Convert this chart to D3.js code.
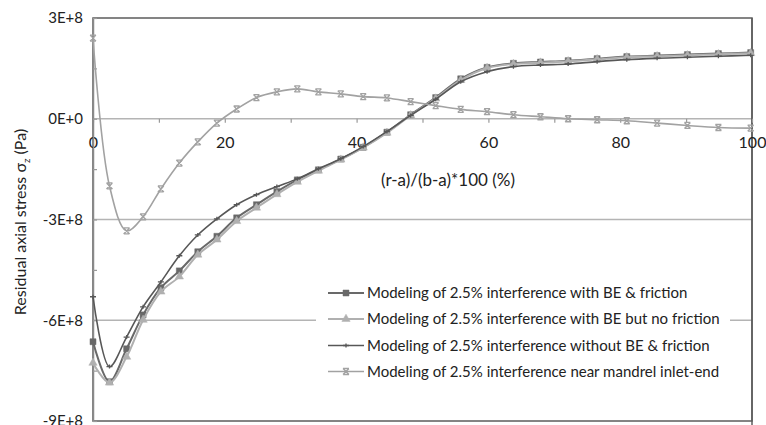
<!DOCTYPE html>
<html>
<head>
<meta charset="utf-8">
<script src="https://cdn.jsdelivr.net/npm/d3@7"></script>
<style>
	body { margin: 0; background: #fff; }
	text { font-family: Lato, "Open Sans", sans-serif; fill: #222; }
</style>
</head>
<body>
<div id="chart"></div>
<script>
// x positions (r-a)/(b-a)*100, shared by all series
var xValues = [0, 2.5, 5.1, 7.6, 10.3, 13.1, 15.9, 18.8, 21.8, 24.8, 27.9, 31, 34.2, 37.6, 41, 44.6, 48.2, 52, 55.8, 59.8, 63.8, 67.9, 72.1, 76.5, 81, 85.6, 90.2, 94.9, 99.8];

// stress values in units of 1E+8 Pa
var beFriction = [-6.64, -7.83, -6.85, -5.84, -5.03, -4.53, -3.96, -3.5, -2.95, -2.56, -2.17, -1.82, -1.52, -1.2, -0.85, -0.4, 0.12, 0.63, 1.19, 1.53, 1.65, 1.69, 1.73, 1.79, 1.85, 1.88, 1.91, 1.94, 1.97];
var beNoFriction = [-7.27, -7.86, -7.09, -5.99, -5.15, -4.7, -4.05, -3.6, -3.05, -2.65, -2.25, -1.88, -1.55, -1.22, -0.86, -0.42, 0.1, 0.6, 1.15, 1.51, 1.63, 1.67, 1.71, 1.77, 1.83, 1.86, 1.89, 1.92, 1.95];
var noBeFriction = [-5.3, -7.38, -6.5, -5.6, -4.86, -4.08, -3.46, -2.98, -2.56, -2.26, -2.02, -1.79, -1.49, -1.19, -0.83, -0.38, 0.1, 0.58, 1.1, 1.4, 1.55, 1.6, 1.63, 1.7, 1.76, 1.8, 1.83, 1.86, 1.89];
var inletEnd = [2.4, -2.0, -3.34, -2.92, -2.09, -1.32, -0.69, -0.13, 0.29, 0.63, 0.8, 0.89, 0.8, 0.74, 0.66, 0.62, 0.51, 0.39, 0.28, 0.21, 0.12, 0.06, 0.0, -0.03, -0.06, -0.13, -0.2, -0.26, -0.28];

var seriesNames = [
	"Modeling of 2.5% interference with BE & friction",
	"Modeling of 2.5% interference with BE but no friction",
	"Modeling of 2.5% interference without BE & friction",
	"Modeling of 2.5% interference near mandrel inlet-end"
];

var xTickValues = [0, 10, 20, 30, 40, 50, 60, 70, 80, 90, 100];
var xTickLabels = ["0", "", "20", "", "40", "", "60", "", "80", "", "100"];
var yTickValues = [-9, -7.5, -6, -4.5, -3, -1.5, 0, 1.5, 3];
var yTickLabels = ["-9E+8", "", "-6E+8", "", "-3E+8", "", "0E+0", "", "3E+8"];
var yGrid = [-6, -3, 0];

var width = 766, height = 425;
var margin = {left: 93, right: 14, top: 18, bottom: 4};

var svg = d3.select("#chart")
	.append("svg")
		.attr("width", width)
		.attr("height", height);

var x = d3.scaleLinear().domain([0, 100]).range([margin.left, width - margin.right]);
var y = d3.scaleLinear().domain([-9, 3]).range([height - margin.bottom, margin.top]);

// gridlines
svg.append("g")
	.selectAll("line")
	.data(yGrid)
	.enter()
		.append("line")
		.attr("x1", x(0))
		.attr("x2", x(100))
		.attr("y1", d => y(d))
		.attr("y2", d => y(d))
		.attr("stroke", "#b4b4b4")
		.attr("stroke-width", 1.5);

// plot border
svg.append("rect")
	.attr("x", x(0))
	.attr("y", y(3))
	.attr("width", x(100) - x(0))
	.attr("height", y(-9) - y(3))
	.attr("fill", "none")
	.attr("stroke", "#5c5c5c")
	.attr("stroke-width", 1.5);

svg.append("line")
	.attr("x1", x(100)).attr("x2", x(100))
	.attr("y1", y(3)).attr("y2", height)
	.attr("stroke", "#5c5c5c")
	.attr("stroke-width", 1.5);

// x axis sits on the zero line
var xAxis = svg.append("g")
	.attr("transform", "translate(0," + y(0) + ")")
	.call(d3.axisBottom(x)
		.tickValues(xTickValues)
		.tickSize(4)
		.tickPadding(14)
		.tickFormat((d, i) => xTickLabels[i]));
xAxis.select(".domain").remove();
xAxis.selectAll("line").attr("stroke", "#9a9a9a").attr("stroke-width", 1.2);
xAxis.selectAll("text").style("font-size", "16px").attr("fill", "#222");

var yAxis = svg.append("g")
	.attr("transform", "translate(" + x(0) + ",0)")
	.call(d3.axisLeft(y)
		.tickValues(yTickValues)
		.tickSizeInner(-4)
		.tickSizeOuter(0)
		.tickPadding(10)
		.tickFormat((d, i) => yTickLabels[i]));
yAxis.select(".domain").attr("stroke", "#8a8a8a").attr("stroke-width", 1.5);
yAxis.selectAll("line").attr("stroke", "#9a9a9a").attr("stroke-width", 1.2);
yAxis.selectAll("text").style("font-size", "15px").attr("fill", "#222");

// axis titles
svg.append("text")
	.attr("x", 448)
	.attr("y", 186)
	.attr("text-anchor", "middle")
	.style("font-size", "17px")
	.text("(r-a)/(b-a)*100 (%)");

var yTitle = svg.append("text")
	.attr("transform", "translate(26,222) rotate(-90)")
	.attr("text-anchor", "middle")
	.style("font-size", "16px");
yTitle.append("tspan").text("Residual axial stress σ");
yTitle.append("tspan").attr("dy", 4).style("font-size", "10px").text("z");
yTitle.append("tspan").attr("dy", -4).text(" (Pa)");

// marker shapes
var square = d3.symbol().type(d3.symbolSquare).size(36);
var triangle = d3.symbol().type(d3.symbolTriangle).size(30);
function plusPath() { return "M-3,0H3M0,-2V2"; }
function starPath() { return "M-3,-3L3,3M-3,3L3,-3M-3,-3H3M-3,3H3"; }

var series = [
	{name: seriesNames[0], values: beFriction, color: "#696969", width: 2, marker: square(), filled: true},
	{name: seriesNames[1], values: beNoFriction, color: "#b0b0b0", width: 2, marker: triangle(), filled: true},
	{name: seriesNames[2], values: noBeFriction, color: "#575757", width: 1.6, marker: plusPath(), filled: false},
	{name: seriesNames[3], values: inletEnd, color: "#a2a2a2", width: 1.6, marker: starPath(), filled: false}
];

var line = d3.line()
	.x((d, i) => x(xValues[i]))
	.y(d => y(d))
	.curve(d3.curveCatmullRom.alpha(0.5));

for (let s of series) {
	var g = svg.append("g");
	g.append("path")
		.attr("d", line(s.values))
		.attr("fill", "none")
		.attr("stroke", s.color)
		.attr("stroke-width", s.width);
	g.selectAll("path.marker")
		.data(s.values)
		.enter()
			.append("path")
			.attr("class", "marker")
			.attr("d", s.marker)
			.attr("transform", (d, i) => "translate(" + x(xValues[i]) + "," + y(d) + ")")
			.attr("fill", s.filled ? s.color : "none")
			.attr("stroke", s.color)
			.attr("stroke-width", s.filled ? 0.5 : 1.3);
}

// legend
var legend = svg.append("g");
legend.append("rect")
	.attr("x", 316)
	.attr("y", 276)
	.attr("width", 414)
	.attr("height", 118)
	.attr("fill", "#fff");

var legendRows = [293, 319, 345.5, 371.5];
series.forEach((s, i) => {
	var row = legend.append("g").attr("transform", "translate(0," + legendRows[i] + ")");
	row.append("line")
		.attr("x1", 328).attr("x2", 364)
		.attr("y1", 0).attr("y2", 0)
		.attr("stroke", s.color)
		.attr("stroke-width", s.width);
	row.append("path")
		.attr("d", s.marker)
		.attr("transform", "translate(346,0)")
		.attr("fill", s.filled ? s.color : "none")
		.attr("stroke", s.color)
		.attr("stroke-width", s.filled ? 0.5 : 1.3);
	row.append("text")
		.attr("x", 367)
		.attr("dy", "0.35em")
		.style("font-size", "15px")
		.text(s.name);
});
</script>
</body>
</html>
